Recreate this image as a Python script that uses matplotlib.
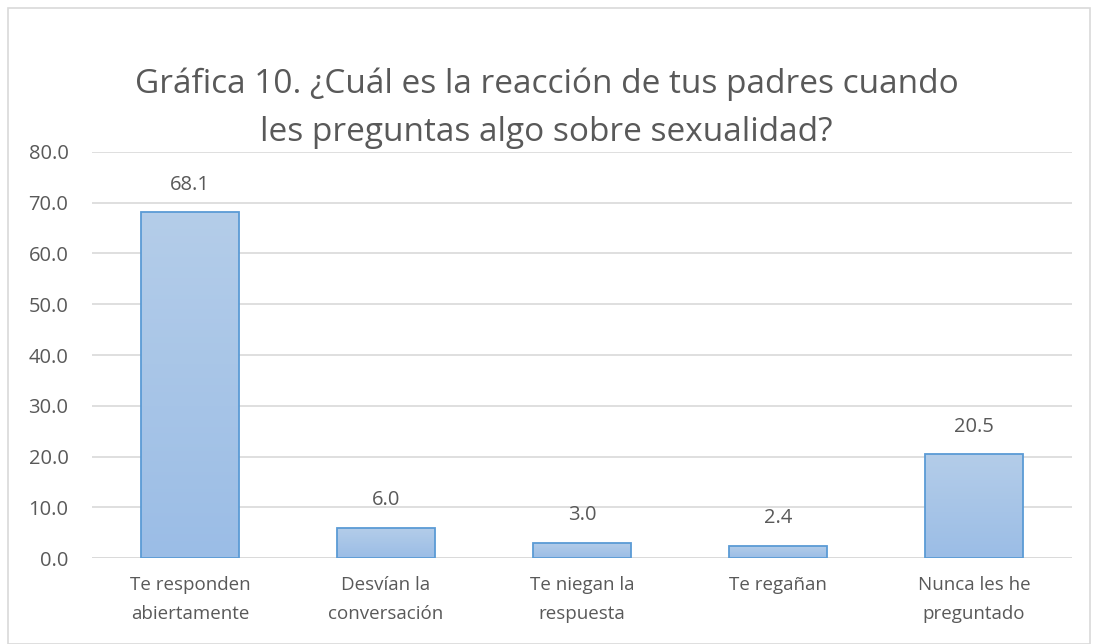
import numpy as np
import matplotlib.pyplot as plt
from matplotlib.patches import Rectangle
from matplotlib.colors import LinearSegmentedColormap

plt.rcParams['font.family'] = ['Open Sans', 'DejaVu Sans']

categories = ["Te responden\nabiertamente", "Desvían la\nconversación", "Te niegan la\nrespuesta",
              "Te regañan", "Nunca les he\npreguntado"]
values = [68.1, 6.0, 3.0, 2.4, 20.5]
yticks = [0, 10, 20, 30, 40, 50, 60, 70, 80]

txt = "#595959"
fig = plt.figure(figsize=(10.93, 6.44), dpi=100)
fig.patches.append(Rectangle((8 / 1093, 0), 1082 / 1093, 1 - 8 / 644, transform=fig.transFigure,
                             fill=False, edgecolor="#d9d9d9", linewidth=1.2))
ax = fig.add_axes([0.0842, 0.1335, 0.8966, 0.6305])

x = np.arange(len(values))
bars = ax.bar(x, values, width=0.5, color="none", edgecolor="#5b9bd5", linewidth=1.3, zorder=3)
cmap = LinearSegmentedColormap.from_list("g", ["#9bbde6", "#b4cde9"])
grad = np.linspace(0, 1, 100).reshape(-1, 1)
for b in bars:
    bx, bw, bh = b.get_x(), b.get_width(), b.get_height()
    im = ax.imshow(grad, cmap=cmap, extent=[bx, bx + bw, 0, bh], origin="lower",
                   aspect="auto", zorder=2)
    im.set_clip_path(b)
    ax.text(bx + bw / 2, bh + 5.4, f"{bh:.1f}", ha="center", va="center", fontsize=14.5, color=txt)

ax.set_xlim(-0.5, len(values) - 0.5)
ax.set_ylim(0, 80)
ax.set_yticks(yticks)
ax.set_yticklabels([f"{v:.1f}" for v in yticks])
ax.set_xticks(x)
ax.set_xticklabels(categories, linespacing=1.75)
ax.tick_params(axis="both", length=0, labelcolor=txt)
ax.tick_params(axis="x", pad=13, labelsize=13.5)
ax.tick_params(axis="y", pad=17, labelsize=14.5)
ax.grid(axis="y", color="#d9d9d9", linewidth=1.2, zorder=0)
for s in ax.spines.values():
    s.set_visible(False)
ax.axhline(0, color="#d9d9d9", linewidth=1.2, zorder=1)

fig.text(0.5, 1 - 84 / 644, "Gráfica 10. ¿Cuál es la reacción de tus padres cuando",
         ha="center", va="center", fontsize=24, color=txt)
fig.text(0.5, 1 - 132 / 644, "les preguntas algo sobre sexualidad?",
         ha="center", va="center", fontsize=24, color=txt)

fig.savefig("out.png", dpi=100)
